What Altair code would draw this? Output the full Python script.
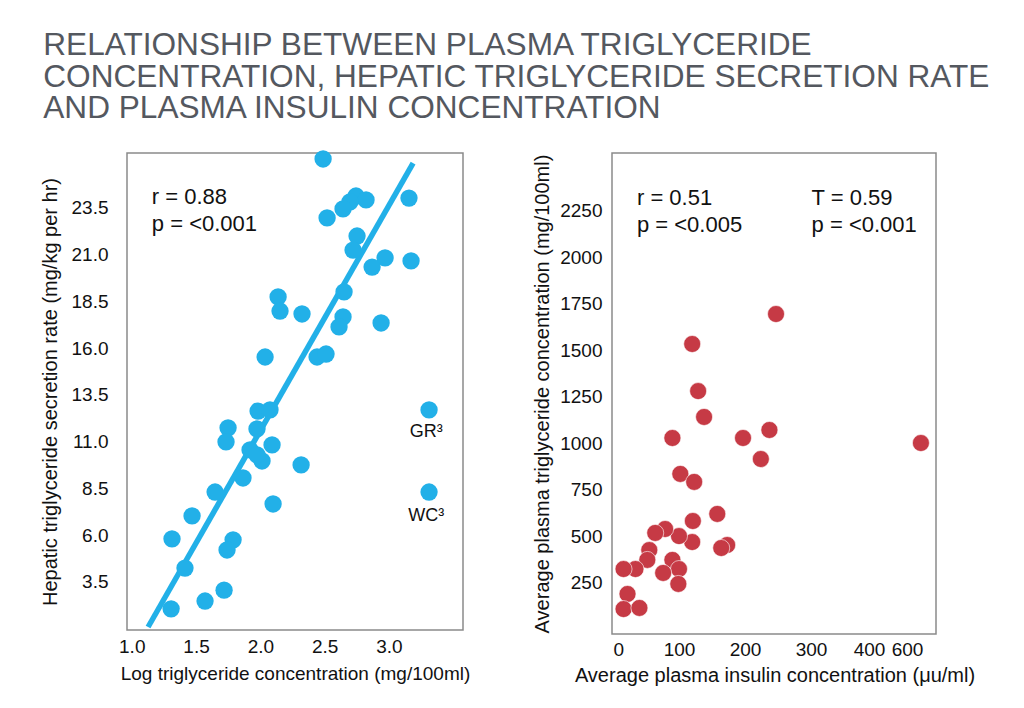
import altair as alt
import pandas as pd

# ---------------- data ----------------
# Left panel: log TG concentration vs hepatic TG secretion rate
left_x = [2.488, 2.744, 2.822, 2.697, 2.643, 3.156, 2.519, 2.752, 2.721, 2.970,
          2.869, 3.172, 2.138, 2.153, 2.324, 2.651, 2.643, 2.612, 2.939, 2.037,
          2.441, 2.511, 1.982, 2.075, 1.749, 1.733, 1.974, 2.091, 1.920, 2.013,
          1.974, 2.317, 1.865, 2.099, 1.648, 1.469, 1.313, 1.788, 1.741, 1.414,
          1.718, 1.570, 1.306, 3.312, 3.312]
left_y = [26.12, 24.14, 23.93, 23.82, 23.45, 24.03, 22.97, 22.00, 21.25, 20.83,
          20.34, 20.67, 18.74, 17.99, 17.83, 19.01, 17.67, 17.14, 17.35, 15.53,
          15.53, 15.69, 12.64, 12.70, 11.74, 10.99, 11.68, 10.83, 10.56, 9.97,
          10.29, 9.76, 9.06, 7.67, 8.31, 7.03, 5.80, 5.75, 5.21, 4.24,
          3.06, 2.48, 2.06, 12.70, 8.31]

fit_x = [1.127, 3.188]
fit_y = [1.09, 25.90]

left_stats = ["r = 0.88", "p = <0.001"]
left_stats_x = [1.156, 1.156]
left_stats_y = [24.09, 22.64]

outlier_labels = ["GR\u00b3", "WC\u00b3"]
outlier_label_x = [3.29, 3.29]
outlier_label_y = [11.52, 7.03]

left_xticks = [1.0, 1.5, 2.0, 2.5, 3.0]
left_yticks = [3.5, 6.0, 8.5, 11.0, 13.5, 16.0, 18.5, 21.0, 23.5]

# Right panel: insulin vs plasma TG concentration
right_x = [247, 120, 129, 138, 90, 197, 237, 224, 648, 102,
           123, 121, 158, 173, 164, 120, 100, 79, 64, 55,
           52, 34, 16, 90, 100, 76, 99, 22, 16, 40]
right_y = [1695, 1534, 1281, 1142, 1029, 1029, 1072, 916, 1002, 836,
           793, 583, 621, 454, 438, 470, 502, 540, 519, 427,
           374, 325, 325, 374, 325, 304, 245, 191, 110, 116]

right_stats = ["r = 0.51", "p = <0.005", "T = 0.59", "p = <0.001"]
right_stats_x = [36.3, 36.3, 301.0, 301.0]
right_stats_y = [2318, 2173, 2318, 2173]

right_xticks = [0, 100, 200, 300, 400, 600]
right_yticks = [250, 500, 750, 1000, 1250, 1500, 1750, 2000, 2250]

title_lines = [
    "RELATIONSHIP BETWEEN PLASMA TRIGLYCERIDE",
    "CONCENTRATION, HEPATIC TRIGLYCERIDE SECRETION RATE",
    "AND PLASMA INSULIN CONCENTRATION",
]

BLUE = "#22b0e8"
RED = "#c63a45"
FONT = "Liberation Sans"

# ---------------- left panel ----------------
lx_enc = alt.X(
    "x:Q",
    title="Log triglyceride concentration (mg/100ml)",
    scale=alt.Scale(domain=[0.963, 3.576], nice=False, zero=False),
    axis=alt.Axis(values=left_xticks, format=".1f", labelPadding=7,
                  titlePadding=8, titleFontSize=19),
)
ly_enc = alt.Y(
    "y:Q",
    title="Hepatic triglyceride secretion rate (mg/kg per hr)",
    scale=alt.Scale(domain=[0.93, 26.44], nice=False, zero=False),
    axis=alt.Axis(values=left_yticks, format=".1f", labelPadding=19,
                  titlePadding=11, titleFontSize=20),
)

left_df = pd.DataFrame({"x": left_x, "y": left_y})
fit_df = pd.DataFrame({"x": fit_x, "y": fit_y})
lstat_df = pd.DataFrame({"x": left_stats_x, "y": left_stats_y, "t": left_stats})
olab_df = pd.DataFrame({"x": outlier_label_x, "y": outlier_label_y, "t": outlier_labels})

left_fit = alt.Chart(fit_df).mark_line(color=BLUE, strokeWidth=5.5, clip=True).encode(x=lx_enc, y=ly_enc)
left_pts = alt.Chart(left_df).mark_circle(color=BLUE, size=300, opacity=1).encode(x=lx_enc, y=ly_enc)
left_stat = alt.Chart(lstat_df).mark_text(align="left", baseline="middle", fontSize=22,
                                          font=FONT, color="#111").encode(x=lx_enc, y=ly_enc, text="t:N")
left_olab = alt.Chart(olab_df).mark_text(align="center", baseline="middle", fontSize=18,
                                         font=FONT, color="#111").encode(x=lx_enc, y=ly_enc, text="t:N")

left = alt.layer(left_fit, left_pts, left_stat, left_olab).properties(width=336, height=477)

# ---------------- right panel ----------------
rx_enc = alt.X(
    "x:Q",
    title="Average plasma insulin concentration (\u03bcu/ml)",
    scale=alt.Scale(domain=[0, 300, 400, 600, 700], range=[1, 199, 257, 295, 324],
                    nice=False, zero=False),
    axis=alt.Axis(values=right_xticks, format="d", labelPadding=6,
                  titlePadding=6, titleFontSize=20),
)
ry_enc = alt.Y(
    "y:Q",
    title="Average plasma triglyceride concentration (mg/100ml)",
    scale=alt.Scale(domain=[-24, 2560], nice=False, zero=False),
    axis=alt.Axis(values=right_yticks, format="d", labelPadding=10,
                  titlePadding=7, titleFontSize=20),
)

right_df = pd.DataFrame({"x": right_x, "y": right_y})
rstat_df = pd.DataFrame({"x": right_stats_x, "y": right_stats_y, "t": right_stats})

right_pts = alt.Chart(right_df).mark_circle(color=RED, size=290, opacity=1,
                                            stroke="white", strokeWidth=0.6).encode(x=rx_enc, y=ry_enc)
right_stat = alt.Chart(rstat_df).mark_text(align="left", baseline="middle", fontSize=22,
                                           font=FONT, color="#111").encode(x=rx_enc, y=ry_enc, text="t:N")

right = alt.layer(right_pts, right_stat).properties(width=324, height=481)

chart = (
    alt.hconcat(left, right, spacing=60)
    .properties(
        title=alt.TitleParams(
            text=title_lines, anchor="start", font=FONT, fontSize=31.6,
            fontWeight="normal", color="#54585f", lineHeight=31.3, offset=25, dx=4,
        ),
        padding={"left": 31, "top": 22, "right": 5, "bottom": 5},
        background="white",
    )
    .configure_view(stroke="#8a8a8a", strokeWidth=1.5)
    .configure_axis(
        grid=False, domain=False, ticks=False, tickSize=0,
        labelFont=FONT, labelFontSize=19, labelColor="#111",
        titleFont=FONT, titleFontWeight="normal", titleColor="#111",
    )
)

chart.save("out.html", embed_options={"renderer": "svg", "actions": False})
